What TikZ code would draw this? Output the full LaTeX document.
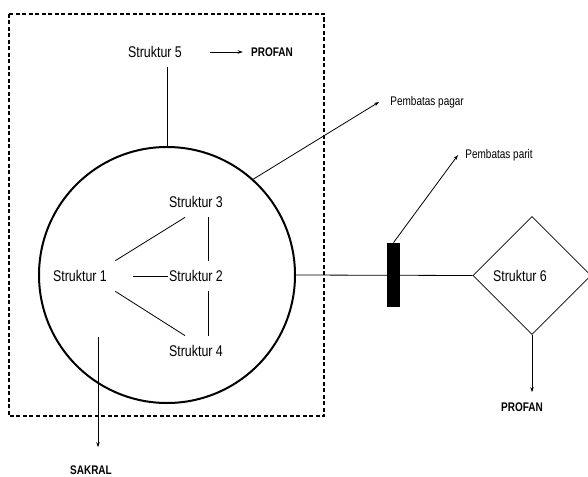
\documentclass[tikz,border=0pt]{standalone}
\usepackage{fontspec}
\setmainfont{Liberation Sans}[FakeStretch=0.8]
\usetikzlibrary{shapes.geometric,arrows.meta}
\tikzset{
  struktur/.style={minimum width=70pt,minimum height=30pt,inner sep=0pt,font=\fontsize{15.5}{17}\selectfont},
  sisi/.style={inner sep=0pt,font=\fontsize{12.5}{14}\selectfont\bfseries},
  batas/.style={inner sep=0pt,anchor=west,font=\fontsize{12.5}{14}\selectfont},
  panah/.style={-{Stealth[length=5pt,width=3.5pt]}}
}
\begin{document}
\begin{tikzpicture}[x=1pt,y=-1pt,line width=0.8pt]
  \useasboundingbox (0,0) rectangle (588,476);
  \draw[line width=1.8pt,dash pattern=on 4pt off 2.5pt] (9,14) rectangle (324,416);

  \node[circle,draw,line width=2pt,minimum size=256pt] (pagar) at (167,275) {};
  \node[struktur] (s1) at (80,276) {Struktur 1};
  \node[struktur] (s2) at (196,276) {Struktur 2};
  \node[struktur] (s3) at (196,202) {Struktur 3};
  \node[struktur] (s4) at (196,351) {Struktur 4};
  \node[struktur] (s5) at (155,52) {Struktur 5};
  \node[diamond,draw,minimum width=118pt,minimum height=118pt,inner sep=0pt] (s6box) at (532,275.5) {};
  \node[struktur] (s6) at (520,276) {Struktur 6};

  \node[sisi] (profan1) at (272,52) {PROFAN};
  \node[sisi] (profan2) at (522,407) {PROFAN};
  \node[sisi] (sakral) at (91,470) {SAKRAL};
  \node[batas] (lpagar) at (390,102) {Pembatas pagar};
  \node[batas] (lparit) at (465,155) {Pembatas parit};
  \coordinate (sakral0) at (98,337);

  \draw (s1.north east) -- ([xshift=-11pt]s3.south);
  \draw ([xshift=12pt]s3.south) -- ([xshift=12pt]s2.north);
  \draw ([xshift=18pt]s1.east) -- ([xshift=7pt]s2.west);
  \draw ([xshift=12pt]s2.south) -- ([xshift=12pt]s4.north);
  \draw (s1.south east) -- ([xshift=-11pt]s4.north);
  \draw (s5.south -| pagar.north) -- (pagar.north);
  \draw[panah] ([xshift=20pt]s5.east) -- ([xshift=-8pt]profan1.west);
  \draw[panah] (pagar.48) -- ([xshift=-11pt]lpagar.west);
  \draw[panah] (sakral0) -- ([yshift=18pt]sakral0 |- sakral.north);

  \draw (pagar.east) -- (s6box.west);
  \node[fill,minimum width=13pt,minimum height=64pt,inner sep=0pt] (parit) at (393.5,275) {};
  \draw[panah] (parit.north) -- ([xshift=-7pt]lparit.west);
  \draw[panah] (s6box.south) -- ([yshift=10pt]profan2.north -| s6box.south);
\end{tikzpicture}
\end{document}
